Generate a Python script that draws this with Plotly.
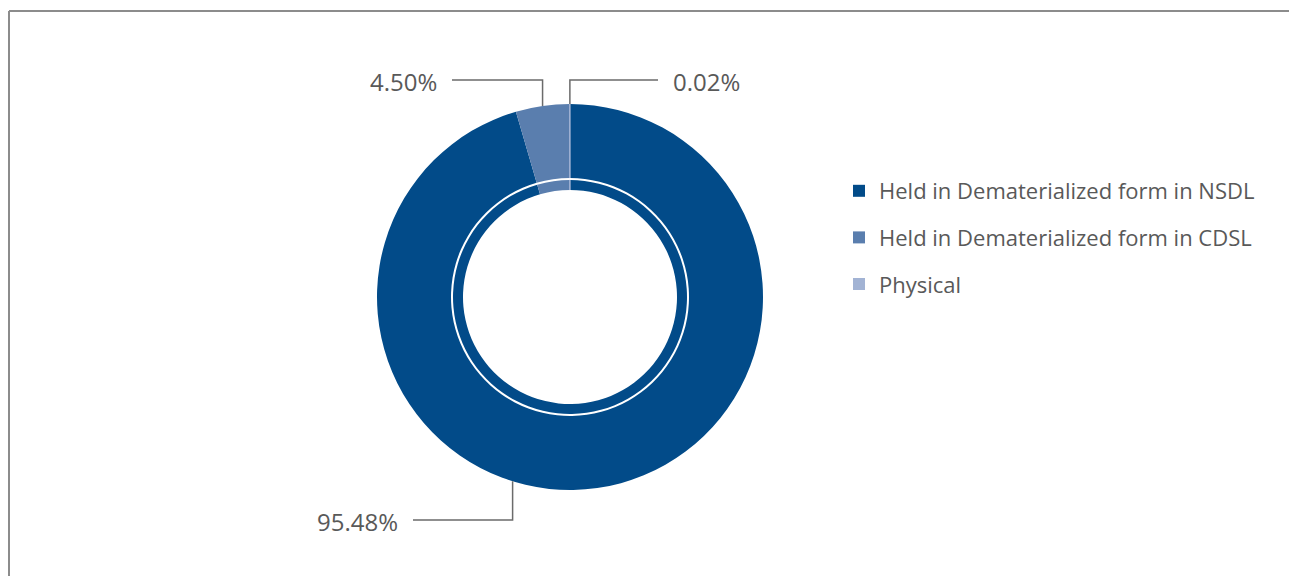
import math
import plotly.graph_objects as go

# ---- data ----
categories = ["Held in Dematerialized form in NSDL",
              "Held in Dematerialized form in CDSL",
              "Physical"]
values = [95.48, 4.50, 0.02]
value_labels = ["95.48%", "4.50%", "0.02%"]

# ---- styles ----
colors = ["#024b89", "#5a7eae", "#a2b3d4"]
OFF = 8                     # page body margin of the browser
W, H = 1297 - OFF, 576 - OFF
CX, CY = 570, 297           # donut centre (screen px)
R_OUT, HOLE_OUT = 193, 119  # outer ring
R_IN, HOLE_IN = 117, 107    # inner ring
TEXT_COLOR = "#595959"
LINE_COLOR = "#6b6b6b"
FONT = "Open Sans"


def px(x):
    return (x - OFF) / W


def py(y):
    return (H - (y - OFF)) / H


fig = go.Figure()

common = dict(labels=categories, values=values, sort=False, direction="clockwise",
              rotation=0, textinfo="none", hoverinfo="label+percent",
              showlegend=False)
line_cols = ["rgba(0,0,0,0)", "rgba(0,0,0,0)", colors[2]]
line_w = [0, 0, 1]

fig.add_trace(go.Pie(**common,
                     marker=dict(colors=colors, line=dict(color=line_cols, width=line_w)),
                     hole=HOLE_OUT / R_OUT,
                     domain=dict(x=[px(CX - R_OUT), px(CX + R_OUT)],
                                 y=[py(CY + R_OUT), py(CY - R_OUT)])))
fig.add_trace(go.Pie(**common,
                     marker=dict(colors=colors, line=dict(color=line_cols, width=line_w)),
                     hole=HOLE_IN / R_IN,
                     domain=dict(x=[px(CX - R_IN), px(CX + R_IN)],
                                 y=[py(CY + R_IN), py(CY - R_IN)])))

# legend entries (dummy traces so the item spacing can be controlled)
for i, (cat, col) in enumerate(zip(categories, colors)):
    fig.add_trace(go.Scatter(x=[None], y=[None], mode="markers", name=cat,
                             legendgroup=f"g{i}",
                             marker=dict(symbol="square", size=13, color=col),
                             showlegend=True))

# ---- callouts: leader lines anchored on the donut edge ----
total = sum(values)
cum = 0
mid_angles = []
for v in values:
    mid_angles.append((cum + v / 2) / total * 360)
    cum += v
# label anchor angles (deg clockwise from 12 o'clock); the big slice label sits left of its middle
anchor_angles = [197.3, mid_angles[1], mid_angles[2]]
elbow_y = [520, 80, 80]
end_x = [413, 452, 658]
text_side = ["left", "left", "right"]

shapes = []
annotations = []
for lab, ang, ey, ex, side in zip(value_labels, anchor_angles, elbow_y, end_x, text_side):
    a = math.radians(ang)
    ax = CX + R_OUT * math.sin(a)
    ay = CY - R_OUT * math.cos(a)
    shapes.append(dict(type="path", xref="paper", yref="paper",
                       path=f"M {px(ax)} {py(ay)} L {px(ax)} {py(ey)} L {px(ex)} {py(ey)}",
                       line=dict(color=LINE_COLOR, width=1.5)))
    if side == "left":
        annotations.append(dict(x=px(ex - 13), y=py(ey + 1), xref="paper", yref="paper",
                                text=lab, showarrow=False, xanchor="right", yanchor="middle",
                                font=dict(family=FONT, size=24, color=TEXT_COLOR)))
    else:
        annotations.append(dict(x=px(ex + 13), y=py(ey + 1), xref="paper", yref="paper",
                                text=lab, showarrow=False, xanchor="left", yanchor="middle",
                                font=dict(family=FONT, size=24, color=TEXT_COLOR)))

# frame lines (top and left)
shapes.append(dict(type="line", xref="paper", yref="paper", x0=px(9), x1=1, y0=py(11), y1=py(11),
                   line=dict(color="#8c8c8c", width=2)))
shapes.append(dict(type="line", xref="paper", yref="paper", x0=px(9), x1=px(9), y0=py(11), y1=0,
                   line=dict(color="#8c8c8c", width=2)))

fig.update_layout(
    width=W, height=H,
    margin=dict(l=0, r=0, t=0, b=0),
    paper_bgcolor="white", plot_bgcolor="white",
    xaxis=dict(visible=False), yaxis=dict(visible=False),
    shapes=shapes, annotations=annotations,
    legend=dict(x=px(839), y=py(170), xanchor="left", yanchor="top",
                font=dict(family=FONT, size=22, color=TEXT_COLOR),
                tracegroupgap=15, itemsizing="constant",
                bgcolor="rgba(0,0,0,0)"),
)

fig.write_html("out.html")
